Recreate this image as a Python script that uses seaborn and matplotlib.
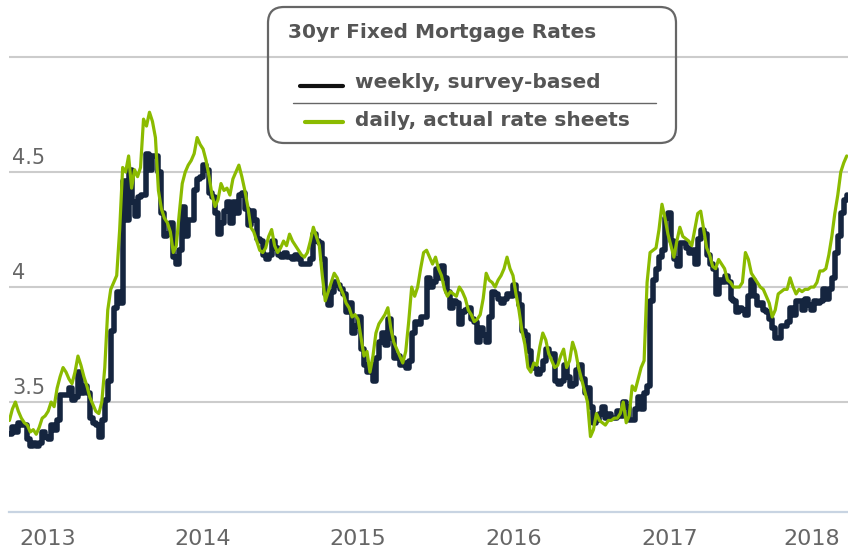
import pandas as pd
import matplotlib.pyplot as plt
import seaborn as sns
from matplotlib.patches import FancyBboxPatch
from matplotlib.lines import Line2D
from matplotlib.transforms import IdentityTransform, ScaledTranslation, blended_transform_factory

# weekly survey-based rate (Thursdays, from 2012-10-04)
weekly_2012 = [3.36, 3.39, 3.37, 3.41, 3.40, 3.40, 3.34, 3.31, 3.32, 3.31, 3.32, 3.37, 3.35]
weekly_2013 = [3.34, 3.40, 3.38, 3.42, 3.53, 3.53, 3.53, 3.56, 3.51, 3.52, 3.63, 3.54, 3.57,
               3.54, 3.43, 3.41, 3.40, 3.35, 3.42, 3.51, 3.59, 3.81, 3.91, 3.98, 3.93, 4.46,
               4.29, 4.51, 4.37, 4.31, 4.39, 4.40, 4.40, 4.58, 4.51, 4.57, 4.57, 4.50, 4.32,
               4.22, 4.23, 4.28, 4.13, 4.10, 4.16, 4.35, 4.22, 4.29, 4.29, 4.42, 4.47, 4.48]
weekly_2014 = [4.53, 4.51, 4.41, 4.39, 4.32, 4.23, 4.28, 4.33, 4.37, 4.28, 4.37, 4.32, 4.40,
               4.41, 4.34, 4.27, 4.33, 4.29, 4.21, 4.20, 4.14, 4.12, 4.14, 4.20, 4.17, 4.14,
               4.13, 4.15, 4.13, 4.13, 4.12, 4.14, 4.12, 4.10, 4.10, 4.10, 4.12, 4.23, 4.20,
               4.19, 4.12, 3.97, 3.92, 3.98, 4.02, 4.01, 3.99, 3.97, 3.89, 3.93, 3.80, 3.83, 3.87]
weekly_2015 = [3.73, 3.66, 3.63, 3.66, 3.59, 3.69, 3.76, 3.80, 3.75, 3.86, 3.78, 3.69, 3.70,
               3.66, 3.67, 3.65, 3.68, 3.80, 3.85, 3.84, 3.87, 3.87, 4.04, 4.00, 4.02, 4.08,
               4.04, 4.09, 4.04, 3.98, 3.91, 3.94, 3.93, 3.84, 3.89, 3.90, 3.91, 3.86, 3.85,
               3.76, 3.82, 3.79, 3.76, 3.87, 3.98, 3.97, 3.95, 3.93, 3.95, 3.97, 3.96, 4.01]
weekly_2016 = [3.97, 3.92, 3.81, 3.79, 3.72, 3.65, 3.65, 3.62, 3.64, 3.68, 3.73, 3.71, 3.71,
               3.59, 3.58, 3.59, 3.66, 3.61, 3.57, 3.58, 3.64, 3.66, 3.60, 3.54, 3.56, 3.48,
               3.41, 3.42, 3.45, 3.48, 3.43, 3.45, 3.43, 3.43, 3.46, 3.44, 3.50, 3.48, 3.42,
               3.42, 3.47, 3.52, 3.47, 3.54, 3.57, 3.94, 4.03, 4.08, 4.13, 4.16, 4.30, 4.32]
weekly_2017 = [4.20, 4.12, 4.09, 4.19, 4.19, 4.17, 4.15, 4.16, 4.10, 4.21, 4.25, 4.23, 4.14,
               4.10, 4.08, 3.97, 4.03, 4.02, 4.05, 4.02, 3.95, 3.94, 3.89, 3.91, 3.90, 3.88,
               3.96, 4.03, 3.96, 3.92, 3.93, 3.90, 3.89, 3.86, 3.82, 3.78, 3.78, 3.83, 3.83,
               3.85, 3.91, 3.88, 3.94, 3.94, 3.90, 3.95, 3.92, 3.90, 3.94, 3.93, 3.94, 3.99]
weekly_2018 = [3.95, 3.99, 4.04, 4.15, 4.22, 4.32, 4.38, 4.40]

# daily rate-sheet index, sampled on the same weeks
daily_2012 = [3.42, 3.47, 3.50, 3.46, 3.43, 3.41, 3.40, 3.37, 3.38, 3.36, 3.39, 3.43, 3.44]
daily_2013 = [3.46, 3.50, 3.48, 3.56, 3.61, 3.65, 3.63, 3.60, 3.58, 3.63, 3.70, 3.66, 3.61,
              3.57, 3.52, 3.49, 3.46, 3.45, 3.50, 3.65, 3.90, 3.99, 4.02, 4.05, 4.25, 4.52,
              4.50, 4.57, 4.43, 4.51, 4.48, 4.52, 4.73, 4.70, 4.76, 4.72, 4.65, 4.42, 4.34,
              4.30, 4.28, 4.24, 4.15, 4.18, 4.32, 4.45, 4.50, 4.53, 4.55, 4.58, 4.65, 4.62]
daily_2014 = [4.60, 4.55, 4.48, 4.40, 4.35, 4.38, 4.45, 4.42, 4.43, 4.40, 4.47, 4.50, 4.53,
              4.48, 4.42, 4.35, 4.26, 4.24, 4.20, 4.16, 4.15, 4.17, 4.22, 4.25, 4.18, 4.15,
              4.17, 4.20, 4.18, 4.23, 4.20, 4.18, 4.16, 4.14, 4.13, 4.15, 4.20, 4.26, 4.22,
              4.18, 4.05, 3.94, 3.98, 4.02, 4.06, 4.04, 4.00, 3.97, 3.93, 3.91, 3.87, 3.88, 3.86]
daily_2015 = [3.78, 3.70, 3.72, 3.63, 3.70, 3.80, 3.84, 3.86, 3.88, 3.91, 3.82, 3.76, 3.73,
              3.70, 3.67, 3.72, 3.85, 4.00, 3.96, 4.00, 4.08, 4.15, 4.16, 4.13, 4.10, 4.13,
              4.08, 4.05, 3.99, 3.96, 3.98, 3.97, 3.96, 4.00, 3.98, 3.95, 3.90, 3.88, 3.85,
              3.86, 3.88, 3.95, 4.06, 4.03, 4.02, 4.00, 4.03, 4.05, 4.08, 4.13, 4.08, 4.05]
daily_2016 = [3.97, 3.90, 3.81, 3.75, 3.65, 3.63, 3.67, 3.66, 3.74, 3.80, 3.77, 3.71, 3.68,
              3.65, 3.66, 3.70, 3.73, 3.65, 3.68, 3.76, 3.72, 3.65, 3.60, 3.55, 3.50, 3.35,
              3.38, 3.45, 3.42, 3.41, 3.40, 3.42, 3.42, 3.43, 3.43, 3.45, 3.50, 3.41, 3.44,
              3.57, 3.55, 3.60, 3.65, 3.68, 4.02, 4.15, 4.16, 4.17, 4.25, 4.36, 4.30, 4.23]
daily_2017 = [4.18, 4.13, 4.20, 4.26, 4.22, 4.21, 4.20, 4.18, 4.25, 4.32, 4.33, 4.25, 4.17,
              4.14, 4.09, 4.08, 4.12, 4.10, 4.08, 4.03, 4.02, 4.00, 4.00, 4.00, 4.02, 4.15,
              4.12, 4.06, 4.04, 4.02, 4.00, 3.99, 3.96, 3.93, 3.87, 3.90, 3.97, 3.98, 3.99,
              3.99, 4.04, 4.00, 3.97, 3.99, 3.98, 3.99, 3.99, 4.00, 4.00, 4.02, 4.07, 4.07]
daily_2018 = [4.08, 4.14, 4.22, 4.32, 4.40, 4.50, 4.54, 4.57]

year_ticks = [2013, 2014, 2015, 2016, 2017, 2018]
rate_grid = [3.5, 4, 4.5, 5]
rate_labels = ["3.5", "4", "4.5"]

weekly = weekly_2012 + weekly_2013 + weekly_2014 + weekly_2015 + weekly_2016 + weekly_2017 + weekly_2018
daily = daily_2012 + daily_2013 + daily_2014 + daily_2015 + daily_2016 + daily_2017 + daily_2018
dates = pd.date_range("2012-10-04", periods=len(weekly), freq="W-THU")
df = pd.DataFrame({"date": dates, "weekly": weekly, "daily": daily})

NAVY = "#15253f"
GREEN = "#8bbb00"
GREY = "#555555"

sns.set_style("white")
plt.rcParams["font.family"] = ["DejaVu Sans"]

W, H = 848, 554
fig = plt.figure(figsize=(W / 100, H / 100), dpi=100)
ax = fig.add_axes([9 / W, 42 / H, 839 / W, 512 / H])

sns.lineplot(data=df, x="date", y="weekly", color=NAVY, lw=4, drawstyle="steps-post", ax=ax, zorder=3)
sns.lineplot(data=df, x="date", y="daily", color=GREEN, lw=2.3, ax=ax, zorder=4)

ax.set_xlim(pd.Timestamp("2012-10-03"), pd.Timestamp("2018-02-25"))
ax.set_ylim(3.022, 5.248)
ax.set_xlabel("")
ax.set_ylabel("")

ax.set_yticks(rate_grid)
ax.yaxis.grid(True, color="#cccccc", lw=1.5)
ax.tick_params(axis="y", length=0, labelleft=False)
trans = blended_transform_factory(ax.transAxes, ax.transData)
for val, lab in zip(rate_grid, rate_labels):
    ax.text(0.004, val + 0.034, lab, transform=trans, ha="left", va="baseline",
            fontsize=15, color="#666666", zorder=2)

ax.set_xticks([pd.Timestamp(f"{y}-01-01") for y in year_ticks])
ax.set_xticklabels([str(y) for y in year_ticks])
ax.tick_params(axis="x", length=6, width=1.2, color="#c8d4e2", labelsize=16,
               labelcolor="#666666", pad=6)
# last year label is nudged left so it stays inside the picture
last = ax.get_xticklabels()[-1]
last.set_transform(last.get_transform() + ScaledTranslation(-9 / 72, 0, fig.dpi_scale_trans))
for side in ["top", "left", "right"]:
    ax.spines[side].set_visible(False)
ax.spines["bottom"].set_color("#c8d4e2")
ax.spines["bottom"].set_linewidth(1.6)


# legend box drawn by hand (pixel positions from the top-left corner)
def fx(x):
    return x / W


def fy(y):
    return 1 - y / H


box = FancyBboxPatch((268, H - 143), 408, 136, boxstyle="round,pad=0,rounding_size=16",
                     transform=IdentityTransform(), facecolor="none", edgecolor="#666666", lw=1.6)
fig.add_artist(box)
fig.text(fx(288), fy(33), "30yr Fixed Mortgage Rates", fontsize=14.5, fontweight="bold",
         color=GREY, ha="left", va="center")
fig.add_artist(Line2D([fx(300), fx(343)], [fy(86), fy(86)], color="#111111", lw=3,
                      transform=fig.transFigure))
fig.text(fx(355), fy(82), "weekly, survey-based", fontsize=14.5, fontweight="bold",
         color=GREY, ha="left", va="center")
fig.add_artist(Line2D([fx(293), fx(656)], [fy(103), fy(103)], color="#666666", lw=1,
                      transform=fig.transFigure))
fig.add_artist(Line2D([fx(305), fx(343)], [fy(122), fy(122)], color=GREEN, lw=3,
                      transform=fig.transFigure))
fig.text(fx(355), fy(120), "daily, actual rate sheets", fontsize=14.5, fontweight="bold",
         color=GREY, ha="left", va="center")

fig.savefig("out.png", dpi=100)
